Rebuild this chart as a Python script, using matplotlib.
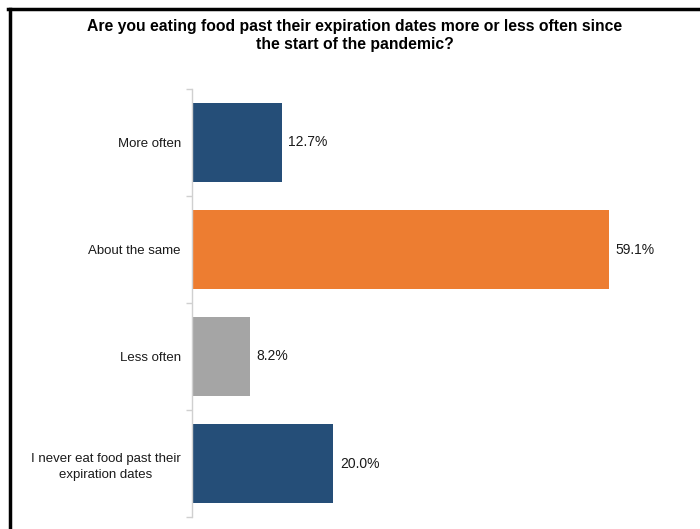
import matplotlib
matplotlib.use("Agg")
import matplotlib.pyplot as plt
from matplotlib.lines import Line2D
import numpy as np

categories = ["More often", "About the same", "Less often",
              "I never eat food past their\nexpiration dates"]
values = [12.7, 59.1, 8.2, 20.0]
labels = ["12.7%", "59.1%", "8.2%", "20.0%"]
colors = ["#254E78", "#ED7D31", "#A5A5A5", "#254E78"]
title = ("Are you eating food past their expiration dates more or less often since\n"
         "the start of the pandemic?")

plt.rcParams['font.family'] = ["Liberation Sans", "DejaVu Sans"]

fig = plt.figure(figsize=(7, 5.29), dpi=100)
ax = fig.add_axes([192/700, 1-517/529, 0.97-192/700, (517-89)/529])

y = np.arange(len(categories))
ax.barh(y, values, height=0.73, color=colors)
ax.set_ylim(len(categories)-0.5, -0.5)
ax.set_xlim(0, 69)
for yi, v, lab in zip(y, values, labels):
    ax.text(v + 0.95, yi, lab, va='center', ha='left', fontsize=10, color='#1a1a1a')

ax.set_yticks(y)
ax.set_yticklabels(categories, fontsize=9.5, color='#1a1a1a', ha='right',
                   multialignment='center', linespacing=1.45)
ax.tick_params(axis='y', which='major', length=0, pad=8)
ax.set_yticks(np.arange(len(categories)+1)-0.5, minor=True)
ax.tick_params(axis='y', which='minor', length=4, color='#D0D0D0', width=1)
ax.set_xticks([])
for s in ['top', 'right', 'bottom']:
    ax.spines[s].set_visible(False)
ax.spines['left'].set_color('#D0D0D0')
ax.spines['left'].set_linewidth(1)

fig.text(0.507, 1-35.5/529, title, ha='center', va='center', fontsize=11.3,
         fontweight='bold', linespacing=1.3)

fig.add_artist(Line2D([8/700, 1.0], [1-9/529, 1-9/529], color='black', lw=2.5))
fig.add_artist(Line2D([10/700, 10/700], [0, 1-9/529], color='black', lw=2.5))

fig.savefig("out.png", dpi=100)
